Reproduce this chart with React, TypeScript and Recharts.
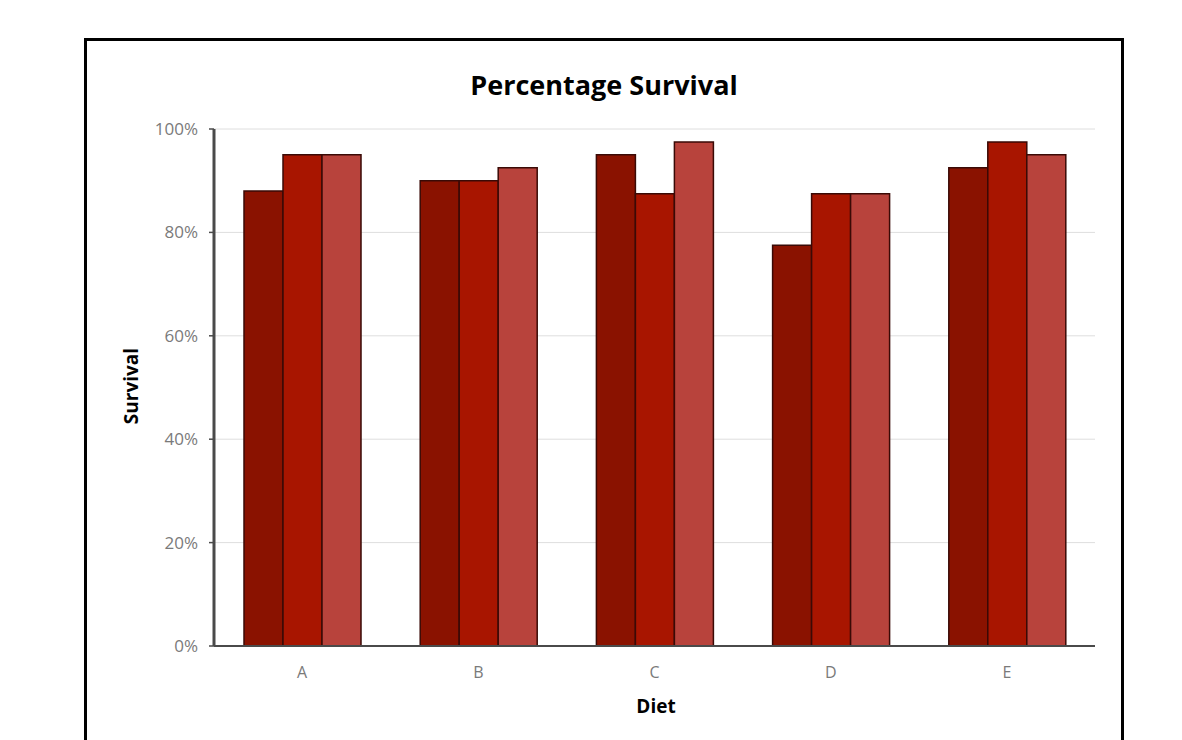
import React from 'react';
import { BarChart, Bar, XAxis, YAxis, CartesianGrid } from 'recharts';

const categories = ['A', 'B', 'C', 'D', 'E'];
const seriesOne = [88, 90, 95, 77.5, 92.5];
const seriesTwo = [95, 90, 87.5, 87.5, 97.5];
const seriesThree = [95, 92.5, 97.5, 87.5, 95];
const yTicks = [0, 20, 40, 60, 80, 100];

const data = categories.map((name, i) => ({
  name,
  s1: seriesOne[i],
  s2: seriesTwo[i],
  s3: seriesThree[i],
}));

const font = '"Open Sans", Lato, sans-serif';

export default function App() {
  return (
    <div style={{ position: 'absolute', left: 0, top: 0, width: 1182, height: 740, overflow: 'hidden', background: '#fff', fontFamily: font }}>
      {/* outer frame */}
      <div
        style={{
          position: 'absolute',
          left: 84,
          top: 38,
          width: 1040,
          height: 740,
          border: '3px solid #000',
          boxSizing: 'border-box',
        }}
      />
      <div style={{ position: 'absolute', left: 0, top: 0 }}>
        <BarChart
          width={1182}
          height={740}
          data={data}
          margin={{ top: 129, right: 87, bottom: 64, left: 154 }}
          barCategoryGap={30}
          barGap={0}
        >
          <CartesianGrid vertical={false} stroke="#dedede" strokeWidth={1} />
          <XAxis
            dataKey="name"
            height={30}
            tickLine={false}
            tickSize={0}
            tickMargin={21}
            axisLine={{ stroke: '#4a4a4a', strokeWidth: 2 }}
            tick={{ fill: '#7a7a7a', fontSize: 16, fontFamily: font }}
          />
          <YAxis
            width={60}
            domain={[0, 100]}
            ticks={yTicks}
            tickFormatter={(v) => `${v}%`}
            tickSize={5}
            tickMargin={11}
            tickLine={{ stroke: '#4a4a4a', strokeWidth: 1.5 }}
            axisLine={{ stroke: '#4a4a4a', strokeWidth: 3 }}
            tick={{ fill: '#7a7a7a', fontSize: 17, fontFamily: font }}
          />
          <Bar dataKey="s1" fill="#8a1200" stroke="#3a0a06" strokeWidth={1.5} isAnimationActive={false} />
          <Bar dataKey="s2" fill="#a81500" stroke="#3a0a06" strokeWidth={1.5} isAnimationActive={false} />
          <Bar dataKey="s3" fill="#b8433c" stroke="#3a0a06" strokeWidth={1.5} isAnimationActive={false} />
        </BarChart>
      </div>
      <div
        style={{
          position: 'absolute',
          left: 604,
          top: 84,
          transform: 'translate(-50%, -50%)',
          fontSize: 27,
          fontWeight: 700,
          color: '#000',
          whiteSpace: 'nowrap',
        }}
      >
        Percentage Survival
      </div>
      <div
        style={{
          position: 'absolute',
          left: 131,
          top: 386,
          transform: 'translate(-50%, -50%) rotate(-90deg)',
          fontSize: 19,
          fontWeight: 700,
          color: '#000',
          whiteSpace: 'nowrap',
        }}
      >
        Survival
      </div>
      <div
        style={{
          position: 'absolute',
          left: 656,
          top: 706,
          transform: 'translate(-50%, -50%)',
          fontSize: 19,
          fontWeight: 700,
          color: '#000',
        }}
      >
        Diet
      </div>
    </div>
  );
}
